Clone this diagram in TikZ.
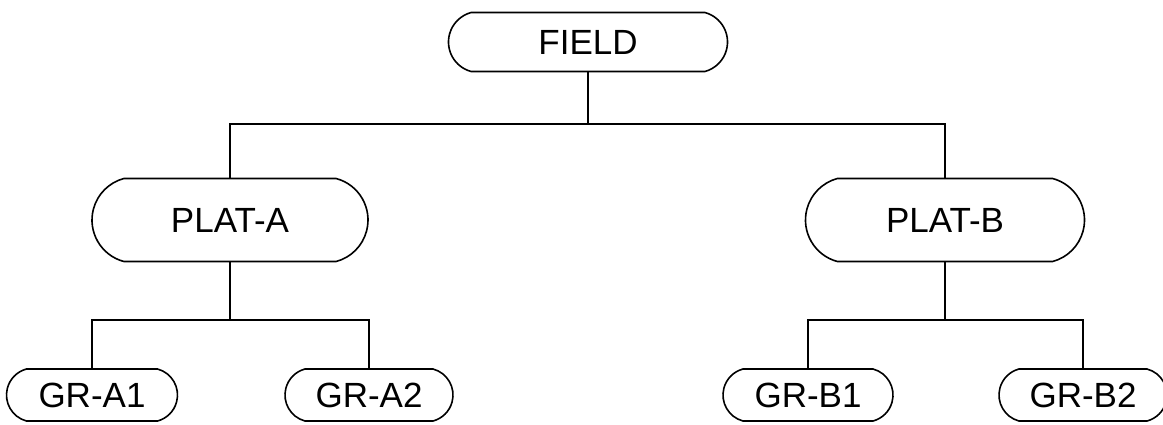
\documentclass[tikz,border=0pt]{standalone}
\usepackage{fontspec}
\setmainfont{Liberation Sans}
\usetikzlibrary{shapes.misc}
\begin{document}
\begin{tikzpicture}[x=1pt,y=-1pt,
  pill/.style={draw, line width=1.6pt, rounded rectangle, rounded rectangle arc length=150,
    inner sep=0pt, font=\fontsize{35}{40}\selectfont},
  big/.style={pill, minimum height=83pt},
  small/.style={pill, minimum height=52pt},
  link/.style={line width=1.8pt}]
\useasboundingbox (0,0) rectangle (1163,424);
% tree nodes
\node[pill, minimum width=279pt, minimum height=59pt] (field) at (588,42) {FIELD};
\node[big, minimum width=276pt] (platA) at (230,220) {PLAT-A};
\node[big, minimum width=279pt] (platB) at (945,220) {PLAT-B};
\node[small, minimum width=171pt] (grA1) at (92,395) {GR-A1};
\node[small, minimum width=168pt] (grA2) at (369,395) {GR-A2};
\node[small, minimum width=170pt] (grB1) at (808,395) {GR-B1};
\node[small, minimum width=168pt] (grB2) at (1083,395) {GR-B2};
% bus rails
\coordinate (top) at (588,124);
\coordinate (railA) at (230,320);
\coordinate (railB) at (945,320);
% connectors
\draw[link] (field.south) -- (top);
\draw[link] (platA.north) -- (platA.north |- top) -- (platB.north |- top) -- (platB.north);
\draw[link] (platA.south) -- (railA);
\draw[link] (grA1.north) -- (grA1.north |- railA) -- (grA2.north |- railA) -- (grA2.north);
\draw[link] (platB.south) -- (railB);
\draw[link] (grB1.north) -- (grB1.north |- railB) -- (grB2.north |- railB) -- (grB2.north);
\end{tikzpicture}
\end{document}
